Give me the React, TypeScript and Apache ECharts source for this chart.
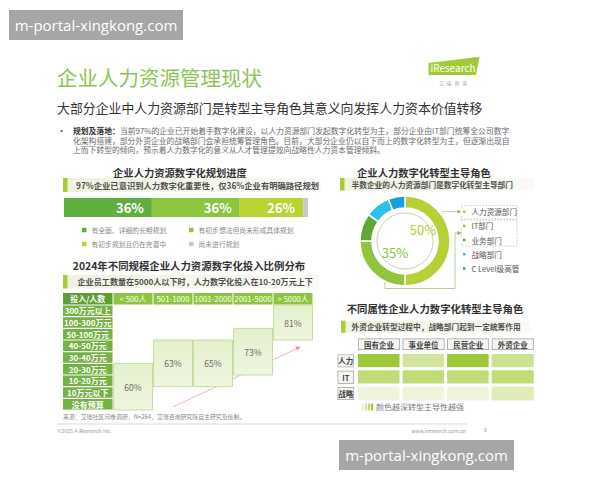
import React, { useEffect, useRef } from "react";
import * as echarts from "echarts";

// ---------- data ----------
const planCategories = ["有全面、详细的长期规划", "有初步想法但尚未形成具体规划", "有初步规划且仍在完善中", "尚未进行规划"];
const planValues = [36, 36, 26, 2];
const planColors = ["#5fae3e", "#8cc63f", "#b7d433", "#c9c9c9"];

const roleNames = ["人力资源部门", "IT部门", "业务部门", "战略部门", "C Level级高管"];
const roleValues = [50, 25, 10, 9, 6];
const roleColors = ["#b5d136", "#93c43f", "#5ea83a", "#2cc0ea", "#1b9fd6"];
const roleLabels = ["50%", "35%"];

const sizeCols = ["< 500人", "501-1000", "1001-2000", "2001-5000", "> 5000人"];
const budgetRows = ["300万元以上", "100-300万元", "50-100万元", "40-50万元", "30-40万元", "20-30万元", "10-20万元", "10万元以下", "没有预算"];
const spanStart = [5, 3, 3, 2, 0];
const spanEnd = [8, 6, 6, 5, 2];
const spanShare = [60, 63, 65, 73, 81];

const ownerCols = ["国有企业", "事业单位", "民营企业", "外资企业"];
const deptRows = ["人力", "IT", "战略"];
const leadHR = [5, 2.4, 5, 2.7];
const leadIT = [3.3, 3.3, 3.3, 3.3];
const leadStrategy = [1, 1, 1, 1.8];

const paragraph = [
  "当前97%的企业已开始着手数字化建设，以人力资源部门发起数字化转型为主，部分企业由IT部门统筹全公司数字",
  "化架构搭建，部分外资企业的战略部门会承担统筹管理角色。目前，大部分企业仍以自下而上的数字化转型为主，但逐渐出现自",
  "上而下转型的倾向，预示着人力数字化的意义从人才管理提效向战略性人力资本管理倾斜。",
];

const FONT = '"Noto Sans CJK SC", "Noto Sans", sans-serif';

function T(text: string, x: number, y: number, fontSize: number, fill: string, extra: any = {}) {
  const align = extra.align || "left";
  const style: any = {
    text, x, y, fontSize, fill, fontFamily: extra.fontFamily || FONT,
    align, textAlign: align, verticalAlign: "middle", textVerticalAlign: "middle",
    fontWeight: extra.fontWeight || "normal",
  };
  return { type: "text", silent: true, style };
}
function R(x: number, y: number, w: number, h: number, style: any) {
  return { type: "rect", silent: true, shape: { x, y, width: w, height: h }, style };
}
function grad(c1: string, c2: string) {
  return { type: "linear", x: 0, y: 0, x2: 1, y2: 0, colorStops: [{ offset: 0, color: c1 }, { offset: 1, color: c2 }] };
}
function subBar(x: number, y: number, w: number, h: number, text: string, fs: number, tx: number) {
  return [
    R(x, y, w, h, { fill: grad("#edf3df", "#fafbf6") }),
    R(x, y, 4.5, h, { fill: "#a9cc35" }),
    T(text, tx, y + h / 2, fs, "#505050", { fontWeight: "bold" }),
  ];
}

function buildOption() {
  const graphic: any[] = [];
  // watermarks
  graphic.push(R(9, 10, 174, 30, { fill: "#a6a6a6" }));
  graphic.push(T("m-portal-xingkong.com", 96, 25, 15, "#ffffff", { align: "center", fontFamily: '"Open Sans", "Noto Sans", sans-serif' }));
  // title
  graphic.push(T("企业人力资源管理现状", 57, 77, 20.5, "#8dc455"));
  graphic.push(T("大部分企业中人力资源部门是转型主导角色其意义向发挥人力资本价值转移", 57, 107, 12.9, "#333333"));
  // logo
  graphic.push({ type: "polygon", silent: true, shape: { points: [[428.5, 63], [479.5, 56.7], [476, 75], [428.5, 75]] }, style: { fill: "#a3cb38" } });
  graphic.push(T("iResearch", 453, 67.5, 10, "#ffffff", { align: "center" }));
  graphic.push(T("艾   瑞   咨   询", 453, 83, 4.6, "#9a9a9a", { align: "center" }));
  // paragraph
  graphic.push(T("·", 57, 130, 9, "#555"));
  graphic.push(T("规划及落地：", 73, 130, 7.8, "#333", { fontWeight: "bold" }));
  graphic.push(T(paragraph[0], 120, 130, 7.8, "#6a6a6a"));
  graphic.push(T(paragraph[1], 73, 140, 7.8, "#6a6a6a"));
  graphic.push(T(paragraph[2], 73, 149.5, 7.8, "#6a6a6a"));
  // headings
  graphic.push(T("企业人力资源数字化规划进度", 180, 172, 10.3, "#333", { align: "center", fontWeight: "bold" }));
  graphic.push(T("企业人力数字化转型主导角色", 424, 172, 10.3, "#333", { align: "center", fontWeight: "bold" }));
  graphic.push(T("2024年不同规模企业人力资源数字化投入比例分布", 189, 265, 10.4, "#333", { align: "center", fontWeight: "bold" }));
  graphic.push(T("不同属性企业人力数字化转型主导角色", 435, 308, 10.4, "#333", { align: "center", fontWeight: "bold" }));
  // sub bars
  graphic.push(...subBar(63, 178, 258, 14, "97%企业已意识到人力数字化重要性，仅36%企业有明确路径规划", 8.3, 76));
  graphic.push(...subBar(63, 275, 256, 13.5, "企业员工数量在5000人以下时，人力数字化投入在10-20万元上下", 8.1, 77.5));
  graphic.push(...subBar(340, 178, 194, 12.5, "半数企业的人力资源部门是数字化转型主导部门", 7.7, 351.5));
  graphic.push(...subBar(341, 320.7, 190, 12, "外资企业转型过程中，战略部门起到一定统筹作用", 7.7, 351.5));
  // donut decorations
  graphic.push({ type: "circle", silent: true, shape: { cx: 405, cy: 241, r: 28 }, style: { fill: "none", stroke: "#b9c79f", lineWidth: 0.8 } });
  graphic.push(T(roleLabels[0], 423, 229.5, 13, "#b3cf38", { align: "center" }));
  graphic.push(T(roleLabels[1], 395, 252, 13, "#8dbf40", { align: "center" }));
  graphic.push({ type: "line", silent: true, shape: { x1: 442, y1: 211.7, x2: 458, y2: 211.7 }, style: { stroke: "#a8bf86", lineWidth: 0.8 } });
  graphic.push({ type: "polygon", silent: true, shape: { points: [[457.5, 209.8], [461.5, 211.7], [457.5, 213.6]] }, style: { fill: "#8fb848" } });
  graphic.push({ type: "polyline", silent: true, shape: { points: [[385, 282], [385, 288.5], [455, 288.5], [455, 233], [458, 233]] }, style: { stroke: "#a8bf86", lineWidth: 0.8, fill: "none" } });
  graphic.push({ type: "polygon", silent: true, shape: { points: [[457.5, 231.1], [461.5, 233], [457.5, 234.9]] }, style: { fill: "#8fb848" } });
  graphic.push(R(461.5, 205.5, 55.5, 13.5, { fill: "none", stroke: "#b3b9a6", lineWidth: 0.7, lineDash: [1.5, 1.5] }));
  graphic.push(R(461.5, 220, 55.5, 26, { fill: "none", stroke: "#b3b9a6", lineWidth: 0.7, lineDash: [1.5, 1.5] }));
  // table corner cell
  graphic.push(R(63, 293, 49.5, 11.5, { fill: "#5e9f36" }));
  graphic.push(T("投入/人数", 87.75, 298.75, 8, "#ffffff", { align: "center", fontWeight: "bold" }));
  // trend arrow
  graphic.push({ type: "line", silent: true, shape: { x1: 173, y1: 407, x2: 297, y2: 348.5 }, style: { stroke: "#e7a5b7", lineWidth: 0.8 } });
  graphic.push({ type: "polygon", silent: true, shape: { points: [[301, 346.7], [295.3, 346.4], [297.2, 350.4]] }, style: { fill: "#e58fa8" } });
  graphic.push(T("来源：艾瑞社区问卷调研，N=264，艾瑞咨询研究院自主研究及绘制。", 63, 416.7, 5.9, "#8a8a8a"));
  // heat legend
  const hb = ["#eaf3d2", "#d3e6a0", "#bcd96c", "#a4ca3d"];
  hb.forEach((c, i) => graphic.push(R(362 + i * 3, 403, 2.2, 7.5, { fill: c })));
  graphic.push(T("颜色越深转型主导性越强", 376, 406.7, 8, "#777"));
  // footer
  graphic.push({ type: "line", silent: true, shape: { x1: 57, y1: 424, x2: 467, y2: 424 }, style: { stroke: "#d2d2d2", lineWidth: 0.8 } });
  graphic.push(T("©2025.4 iResearch Inc.", 57, 430, 5.2, "#9a9a9a"));
  graphic.push(T("www.iresearch.com.cn", 466, 430, 5.2, "#9a9a9a", { align: "right" }));
  graphic.push(T("6", 484, 430, 5.5, "#9a9a9a"));
  graphic.push(R(339, 440, 175, 30, { fill: "#a6a6a6" }));
  graphic.push(T("m-portal-xingkong.com", 426.5, 455, 15, "#ffffff", { align: "center", fontFamily: '"Open Sans", "Noto Sans", sans-serif' }));

  const barSeries = planCategories.map((name, i) => ({
    name,
    type: "bar",
    stack: "plan",
    xAxisIndex: 0,
    yAxisIndex: 0,
    barWidth: 19,
    data: [planValues[i]],
    itemStyle: { color: planColors[i] },
    label: {
      show: i < 3,
      position: "insideRight",
      distance: 8,
      formatter: "{c}%",
      color: "#ffffff",
      fontSize: 13,
      fontWeight: "bold",
      fontFamily: FONT,
    },
    silent: true,
  }));

  const pieSeries = {
    type: "pie",
    center: [405, 241],
    radius: [33, 45],
    startAngle: 90,
    clockwise: true,
    silent: true,
    label: { show: false },
    labelLine: { show: false },
    itemStyle: { borderColor: "#ffffff", borderWidth: 1.5 },
    data: roleNames.map((name, i) => ({ name, value: roleValues[i], itemStyle: { color: roleColors[i] } })),
  };

  const tableSeries = {
    type: "custom",
    xAxisIndex: 1,
    yAxisIndex: 1,
    silent: true,
    encode: { x: 0, y: 1 },
    data: sizeCols.map((_, i) => [i, spanStart[i], spanEnd[i], spanShare[i]]),
    renderItem: (params: any, api: any) => {
      const col = api.value(0);
      const s = api.value(1);
      const e = api.value(2);
      const p1 = api.coord([col, s]);
      const p2 = api.coord([col, e]);
      const size = api.size([1, 1]);
      const w = size[0];
      const h = size[1];
      const x = p1[0] - w / 2;
      const y = p1[1] - h / 2;
      const height = p2[1] - p1[1] + h;
      return {
        type: "group",
        children: [
          {
            type: "rect",
            shape: { x: x + 0.5, y, width: w - 1, height },
            style: {
              fill: { type: "linear", x: 0, y: 0, x2: 0, y2: 1, colorStops: [{ offset: 0, color: "#e4f0cc" }, { offset: 1, color: "#eef6e0" }] },
              stroke: "#b9d58f",
              lineWidth: 0.8,
            },
          },
          {
            type: "text",
            style: {
              text: api.value(3) + "%",
              x: p1[0],
              y: y + height / 2,
              align: "center",
              verticalAlign: "middle",
              textAlign: "center",
              textVerticalAlign: "middle",
              fontSize: 8.5,
              fontFamily: FONT,
              fill: "#6a6a6a",
            },
          },
        ],
      };
    },
  };

  const heatData: any[] = [];
  [leadHR, leadIT, leadStrategy].forEach((row, r) => row.forEach((v, c) => heatData.push([c, r, v])));
  const heatSeries = {
    type: "heatmap",
    xAxisIndex: 2,
    yAxisIndex: 2,
    silent: true,
    data: heatData,
    itemStyle: { borderColor: "#ffffff", borderWidth: 3 },
    label: { show: false },
  };

  return {
    animation: false,
    backgroundColor: "#ffffff",
    textStyle: { fontFamily: FONT },
    graphic,
    legend: [
      {
        data: [planCategories[0], planCategories[2]],
        orient: "vertical", left: 82, top: 226, padding: 0,
        itemWidth: 4.5, itemHeight: 4.5, itemGap: 6, icon: "rect", selectedMode: false,
        textStyle: { fontSize: 6.8, color: "#8a8a8a", lineHeight: 8, fontFamily: FONT },
      },
      {
        data: [planCategories[1], planCategories[3]],
        orient: "vertical", left: 189, top: 226, padding: 0,
        itemWidth: 4.5, itemHeight: 4.5, itemGap: 6, icon: "rect", selectedMode: false,
        textStyle: { fontSize: 6.8, color: "#8a8a8a", lineHeight: 8, fontFamily: FONT },
      },
      {
        data: roleNames,
        orient: "vertical", left: 461, top: 207.2, padding: 0,
        itemWidth: 4.5, itemHeight: 4.5, itemGap: 5.2, icon: "rect", selectedMode: false,
        textStyle: { fontSize: 7.6, color: "#555555", lineHeight: 9, fontFamily: FONT },
      },
    ],
    grid: [
      { left: 64, top: 198, width: 244, height: 19, containLabel: false },
      { left: 113, top: 305, width: 200, height: 105, containLabel: false },
      { left: 356.7, top: 352.7, width: 178.3, height: 49, containLabel: false },
    ],
    xAxis: [
      { gridIndex: 0, type: "value", min: 0, max: 100, show: false },
      {
        gridIndex: 1, type: "category", data: sizeCols, position: "top",
        axisLine: { show: false }, axisTick: { show: false }, splitLine: { show: false },
        axisLabel: {
          interval: 0, margin: 0.5,
          formatter: (v: string) => `{c|${v}}`,
          rich: { c: { width: 39, height: 11.5, lineHeight: 11.5, align: "center", backgroundColor: "#8cc63f", color: "#ffffff", fontSize: 7.8, fontFamily: FONT } },
        },
      },
      {
        gridIndex: 2, type: "category", data: ownerCols, position: "top",
        axisLine: { show: false }, axisTick: { show: false }, splitLine: { show: false },
        axisLabel: {
          interval: 0, margin: 3.4,
          formatter: (v: string) => `{c|${v}}`,
          rich: { c: { width: 40.5, height: 10, lineHeight: 10, align: "center", backgroundColor: "#f6f7f3", borderColor: "#9d9d9d", borderWidth: 0.7, color: "#444444", fontSize: 7.5, fontWeight: "bold", fontFamily: FONT } },
        },
      },
    ],
    yAxis: [
      { gridIndex: 0, type: "category", data: ["规划进度"], show: false },
      {
        gridIndex: 1, type: "category", data: budgetRows, inverse: true,
        axisLine: { show: false }, axisTick: { show: false }, splitLine: { show: false },
        axisLabel: {
          interval: 0, margin: 0.5,
          formatter: (v: string) => `{c|${v}}`,
          rich: { c: { width: 49.5, height: 10.5, lineHeight: 10.5, align: "center", backgroundColor: "#74b243", color: "#ffffff", fontSize: 8, fontWeight: "bold", fontFamily: FONT } },
        },
      },
      {
        gridIndex: 2, type: "category", data: deptRows, inverse: true,
        axisLine: { show: false }, axisTick: { show: false }, splitLine: { show: false },
        axisLabel: {
          interval: 0, margin: 3.4,
          formatter: (v: string) => `{c|${v}}`,
          rich: { c: { width: 15, height: 11.5, lineHeight: 11.5, align: "center", backgroundColor: "#f6f7f3", borderColor: "#9d9d9d", borderWidth: 0.7, color: "#444444", fontSize: 7.5, fontWeight: "bold", fontFamily: FONT } },
        },
      },
    ],
    visualMap: {
      type: "continuous", show: false, min: 1, max: 5, dimension: 2, seriesIndex: 6,
      inRange: { color: ["#eef5dc", "#d3e6a1", "#b9d86a", "#9fc73a"] },
    },
    series: [...barSeries, pieSeries, tableSeries, heatSeries],
  };
}

export default function App() {
  const ref = useRef<HTMLDivElement>(null);
  useEffect(() => {
    document.body.style.margin = "0";
    const chart = echarts.init(ref.current as HTMLDivElement, null, { renderer: "svg" });
    chart.setOption(buildOption() as any);
    return () => chart.dispose();
  }, []);
  return <div ref={ref} style={{ position: "absolute", left: 0, top: 0, width: 600, height: 480, background: "#fff" }} />;
}
